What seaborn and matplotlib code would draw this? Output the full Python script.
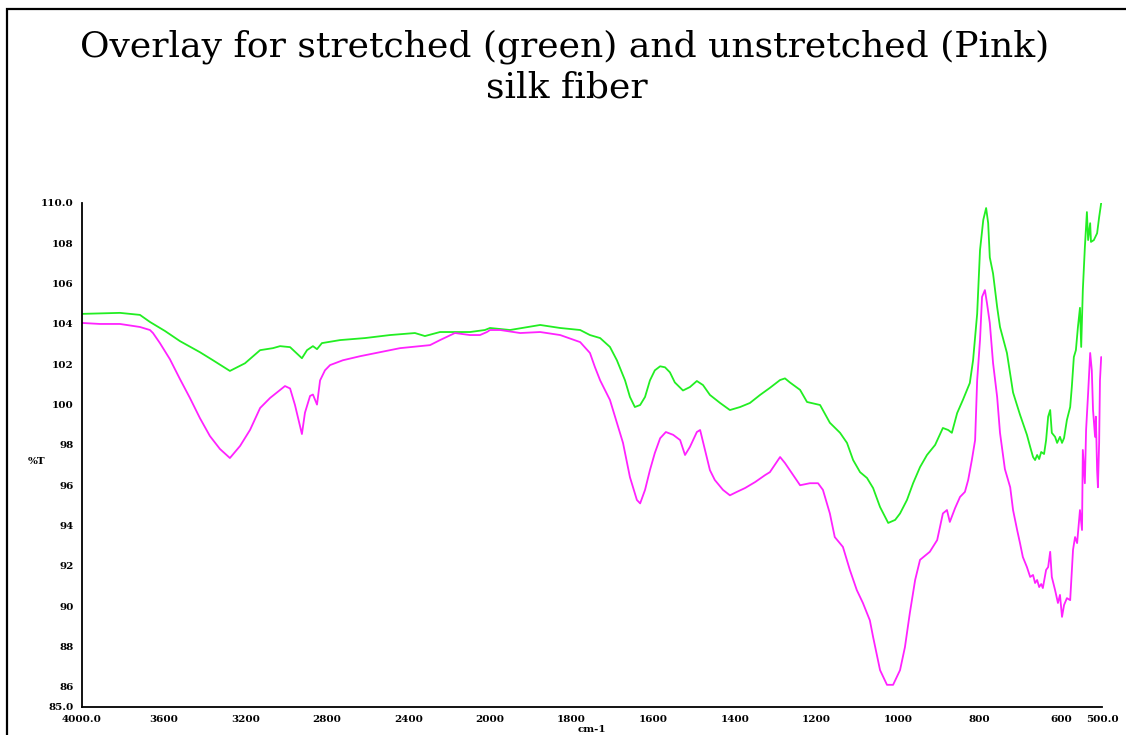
import numpy as np
import pandas as pd
import matplotlib
matplotlib.use("Agg")
import matplotlib.pyplot as plt
from matplotlib.patches import Rectangle
import seaborn as sns

# ---------------- data ----------------
green_wn = [4000, 3814, 3716, 3667, 3593, 3520, 3422, 3358, 3275, 3201, 3127, 3064, 3029, 2980,
            2922, 2897, 2868, 2848, 2824, 2735, 2613, 2490, 2368, 2319, 2245, 2098, 2025, 2000,
            1951, 1877, 1828, 1779, 1755, 1730, 1706, 1689, 1681, 1669, 1657, 1645, 1632, 1620,
            1608, 1596, 1583, 1571, 1559, 1547, 1527, 1510, 1493, 1478, 1461, 1436, 1412, 1387,
            1363, 1338, 1314, 1289, 1277, 1265, 1240, 1223, 1191, 1167, 1142, 1125, 1110, 1093,
            1076, 1061, 1044, 1024, 1007, 995, 978, 963, 946, 929, 909, 890, 877, 868, 855, 841,
            824, 816, 806, 799, 791, 784, 779, 775, 767, 757, 750, 733, 718, 701, 684, 676, 669,
            664, 659, 654, 649, 642, 637, 632, 627, 623, 615, 610, 603, 598, 593, 586, 578, 574,
            569, 564, 559, 554, 551, 547, 542, 537, 534, 529, 527, 520, 512, 507, 502, 500]
green_t = [104.5, 104.55, 104.45, 104.1, 103.65, 103.15, 102.6, 102.2, 101.67, 102.05, 102.7, 102.8,
           102.9, 102.85, 102.3, 102.7, 102.9, 102.75, 103.05, 103.2, 103.3, 103.45, 103.55, 103.4,
           103.6, 103.6, 103.7, 103.8, 103.7, 103.95, 103.8, 103.7, 103.45, 103.3, 102.86, 102.2,
           101.8, 101.2, 100.38, 99.88, 99.98, 100.38, 101.2, 101.7, 101.9, 101.85, 101.6, 101.1,
           100.7, 100.87, 101.17, 100.97, 100.48, 100.08, 99.73, 99.88, 100.08, 100.48, 100.83,
           101.22, 101.3, 101.1, 100.73, 100.13, 99.98, 99.1, 98.6, 98.1, 97.25, 96.65, 96.36,
           95.86, 94.92, 94.13, 94.28, 94.6, 95.27, 96.1, 96.9, 97.5, 98.0, 98.84, 98.74, 98.6,
           99.58, 100.23, 101.07, 102.2, 104.5, 107.66, 109.16, 109.75, 109.0, 107.3, 106.5,
           104.84, 103.85, 102.56, 100.6, 99.5, 98.5, 97.9, 97.4, 97.25, 97.5, 97.3, 97.65,
           97.55, 98.24, 99.4, 99.73, 98.6, 98.4, 98.1, 98.4, 98.1, 98.34, 99.24, 99.88, 100.87,
           102.36, 102.7, 103.85, 104.8, 102.86, 105.68, 107.8, 109.55, 108.16, 109.0, 108.07,
           108.16, 108.5, 109.3, 110.0, 110.0]

pink_wn = [4000, 3912, 3814, 3716, 3667, 3652, 3618, 3569, 3520, 3471, 3422, 3373, 3324, 3275,
           3225, 3176, 3127, 3078, 3005, 2980, 2956, 2922, 2907, 2882, 2868, 2848, 2833, 2809,
           2784, 2721, 2637, 2539, 2441, 2294, 2245, 2172, 2098, 2049, 2015, 2000, 1975, 1926,
           1877, 1828, 1779, 1755, 1743, 1730, 1706, 1689, 1674, 1657, 1640, 1632, 1620, 1608,
           1596, 1583, 1569, 1551, 1534, 1522, 1510, 1493, 1485, 1473, 1461, 1449, 1429, 1412,
           1395, 1375, 1350, 1326, 1314, 1289, 1277, 1252, 1240, 1216, 1196, 1184, 1167, 1155,
           1135, 1118, 1101, 1086, 1069, 1061, 1044, 1027, 1012, 995, 983, 971, 958, 946, 922,
           904, 890, 880, 873, 860, 848, 836, 828, 819, 811, 806, 799, 794, 787, 782, 775, 767,
           757, 750, 738, 725, 718, 708, 701, 694, 684, 676, 669, 664, 659, 654, 649, 645, 637,
           632, 627, 623, 615, 608, 603, 598, 593, 586, 578, 571, 566, 561, 554, 549, 547, 542,
           539, 534, 529, 525, 522, 517, 515, 512, 510, 507, 505, 502]
pink_t = [104.05, 104.0, 104.0, 103.85, 103.7, 103.55, 103.05, 102.25, 101.27, 100.33, 99.33,
          98.44, 97.8, 97.35, 97.95, 98.75, 99.83, 100.33, 100.92, 100.8, 99.98, 98.54, 99.6,
          100.43, 100.5, 100.0, 101.2, 101.7, 101.96, 102.2, 102.4, 102.6, 102.8, 102.95, 103.2,
          103.55, 103.45, 103.45, 103.6, 103.7, 103.7, 103.55, 103.6, 103.45, 103.1, 102.56,
          101.87, 101.2, 100.23, 99.1, 98.1, 96.4, 95.27, 95.1, 95.77, 96.75, 97.6, 98.33, 98.64,
          98.5, 98.24, 97.5, 97.9, 98.64, 98.74, 97.75, 96.75, 96.26, 95.77, 95.5, 95.67, 95.86,
          96.16, 96.5, 96.65, 97.4, 97.1, 96.36, 96.0, 96.1, 96.1, 95.77, 94.6, 93.43, 92.94,
          91.8, 90.8, 90.16, 89.3, 88.47, 86.83, 86.1, 86.1, 86.83, 87.97, 89.66, 91.3, 92.3,
          92.7, 93.28, 94.6, 94.77, 94.18, 94.87, 95.42, 95.67, 96.26, 97.25, 98.24, 101.2,
          103.2, 105.34, 105.68, 105.04, 104.05, 102.06, 100.38, 98.6, 96.8, 95.9, 94.77, 93.78,
          93.13, 92.44, 91.94, 91.45, 91.55, 91.15, 91.3, 90.95, 91.1, 90.9, 91.8, 91.94, 92.7,
          91.45, 90.8, 90.16, 90.56, 89.47, 90.06, 90.4, 90.3, 92.8, 93.43, 93.13, 94.77, 93.78,
          97.75, 96.1, 98.74, 100.58, 102.56, 101.7, 99.73, 98.4, 99.4, 96.75, 95.9, 98.1,
          101.2, 102.36]

x_ticks = [4000, 3600, 3200, 2800, 2400, 2000, 1800, 1600, 1400, 1200, 1000, 800, 600, 500]
x_tick_labels = ["4000.0", "3600", "3200", "2800", "2400", "2000", "1800", "1600", "1400",
                 "1200", "1000", "800", "600", "500.0"]
y_ticks = [85, 86, 88, 90, 92, 94, 96, 98, 100, 102, 104, 106, 108, 110]
y_tick_labels = ["85.0", "86", "88", "90", "92", "94", "96", "98", "100", "102", "104",
                 "106", "108", "110.0"]
title_line1 = "Overlay for stretched (green) and unstretched (Pink)"
title_line2 = "silk fiber"
x_label = "cm-1"
y_label = "%T"

# ---------------- plotting ----------------
sns.set_style("white")
plt.rcParams["font.family"] = ["Liberation Serif", "DejaVu Serif"]
plt.rcParams["text.color"] = "black"
plt.rcParams["xtick.color"] = "black"
plt.rcParams["ytick.color"] = "black"

W, H = 1126, 735
fig = plt.figure(figsize=(W / 100, H / 100), dpi=100)
ax = fig.add_axes([82 / W, 1 - 707 / H, (1102 - 82) / W, (707 - 203) / H])


def fwd(x):
    x = np.asarray(x, dtype=float)
    return np.where(x > 2000, 2000 + (x - 2000) / 2.0, x)


def inv(t):
    t = np.asarray(t, dtype=float)
    return np.where(t > 2000, 2000 + (t - 2000) * 2.0, t)


ax.set_xscale("function", functions=(fwd, inv))

df_g = pd.DataFrame({"wn": green_wn, "T": green_t})
df_p = pd.DataFrame({"wn": pink_wn, "T": pink_t})
sns.lineplot(data=df_g, x="wn", y="T", ax=ax, color="#22ee22", lw=1.3, sort=False,
             estimator=None)
sns.lineplot(data=df_p, x="wn", y="T", ax=ax, color="#ff22ff", lw=1.3, sort=False,
             estimator=None)

ax.set_xlim(4000, 500)
ax.set_ylim(85, 110)
ax.set_xticks(x_ticks)
ax.set_xticklabels(x_tick_labels)
ax.set_yticks(y_ticks)
ax.set_yticklabels(y_tick_labels)
ax.minorticks_off()
ax.set_xlabel("")
ax.set_ylabel("")

for s in ["top", "right"]:
    ax.spines[s].set_visible(False)
for s in ["left", "bottom"]:
    ax.spines[s].set_color("black")
    ax.spines[s].set_linewidth(1.3)

tick_font = dict(family="DejaVu Serif", weight="bold", size=7.5)
ax.tick_params(axis="both", direction="out", length=3, width=1, color="black", pad=3)
for lab in ax.get_xticklabels() + ax.get_yticklabels():
    lab.set_fontfamily(tick_font["family"])
    lab.set_fontweight(tick_font["weight"])
    lab.set_fontsize(tick_font["size"])
    lab.set_color("black")

fig.text(37 / W, 1 - 462 / H, y_label, color="black", **tick_font, ha="center", va="center")
fig.text(592 / W, 1 - 729 / H, x_label, color="black", **tick_font, ha="center", va="center")

title_font = dict(family="DejaVu Serif", size=26, color="black")
fig.text(565 / W, 1 - 57 / H, title_line1, **title_font, ha="center", va="baseline")
fig.text(567 / W, 1 - 98 / H, title_line2, **title_font, ha="center", va="baseline")

# outer frame (left and top edges visible)
fig.patches.append(Rectangle((7 / W, -0.1), 1.2, 1 - 9 / H + 0.1, transform=fig.transFigure,
                             fill=False, edgecolor="black", lw=1.6))

fig.savefig("out.png", dpi=100, facecolor="white")
